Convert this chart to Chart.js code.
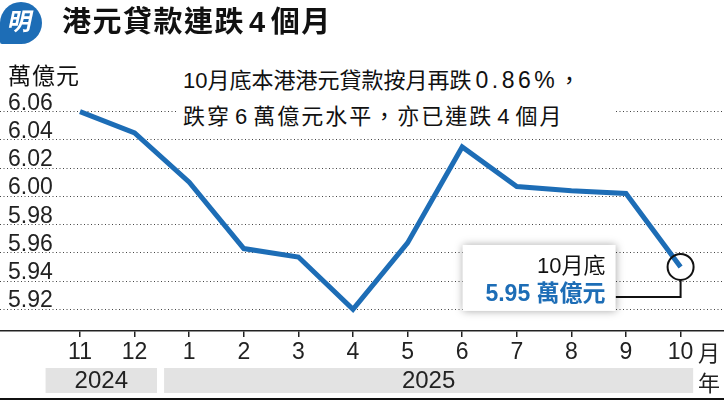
<!DOCTYPE html>
<html>
<head>
<meta charset="utf-8">
<script src="https://cdn.jsdelivr.net/npm/chart.js@4"></script>
<style>
  html, body { margin: 0; padding: 0; background: #fff; }
  #wrap { position: relative; width: 724px; height: 401px; overflow: hidden;
    font-family: "Liberation Sans", "Noto Sans CJK TC", sans-serif; color: #111; }
  canvas { position: absolute; left: 0; top: 0; }
  .logo { position: absolute; left: 0; top: 2px; width: 42px; height: 42px; background: #1d6db6;
    border-radius: 21px 21px 21px 2px; color: #fff; text-align: center; line-height: 42px;
    font: bold 24px "Noto Sans CJK TC"; }
  .logo span { display: inline-block; transform: skewX(-12deg); }
  .title { position: absolute; left: 62px; top: 2px; font: bold 29px "Liberation Sans", "Noto Sans CJK TC";
    letter-spacing: 1.5px; line-height: 40px; white-space: nowrap; }
  .title .d { margin: 0 4px; }
  .unit { position: absolute; left: 8px; top: 61px; font-size: 23px; line-height: 30px; letter-spacing: 1px; }
  .note { position: absolute; left: 178px; top: 62px; width: 436px; height: 72px; background: #fff;
    font-size: 22px; line-height: 36px; padding-left: 5px; box-sizing: border-box; white-space: nowrap; }
  .note .l1 .w { font-size: 23px; letter-spacing: 3.5px; margin-left: 4px; }
  .note .l2 { letter-spacing: 2px; }
  .note .l2 .d { margin: 0 4px; }
  .suffix { position: absolute; left: 698px; font: 22px "Noto Sans CJK TC"; line-height: 26px; color: #222; }
</style>
</head>
<body>
<div id="wrap">
  <canvas id="chart" width="724" height="401"></canvas>
  <div class="logo"><span>明</span></div>
  <div class="title">港元貸款連跌<span class="d">4</span>個月</div>
  <div class="unit">萬億元</div>
  <div class="note"><span class="l1">10月底本港港元貸款按月再跌<span class="w">0.86%</span>，</span><br><span class="l2">跌穿<span class="d">6</span>萬億元水平，亦已連跌<span class="d">4</span>個月</span></div>
  <div class="suffix" style="top:338px">月</div>
  <div class="suffix" style="top:368px">年</div>
</div>
<script>
// 資料
const months = ["11", "12", "1", "2", "3", "4", "5", "6", "7", "8", "9", "10"];
const loans = [6.060, 6.045, 6.010, 5.963, 5.957, 5.920, 5.967, 6.035, 6.007, 6.004, 6.002, 5.950];
const yTicks = [5.92, 5.94, 5.96, 5.98, 6.00, 6.02, 6.04, 6.06];
const years = [
  { label: "2024", from: 0, to: 1 },
  { label: "2025", from: 2, to: 11 },
];

const blue = "#1d6db6";

// 年份色帶、Y軸數字、10月底標註
const decor = {
  id: "decor",
  afterDraw(chart) {
    const { ctx, scales: { x, y } } = chart;
    ctx.save();

    // y 軸數字 (寫在格線上方)
    ctx.fillStyle = "#222";
    ctx.font = '23px "Liberation Sans"';
    ctx.textAlign = "left";
    ctx.textBaseline = "alphabetic";
    yTicks.forEach((v) => {
      ctx.fillText(v.toFixed(2), 8, y.getPixelForValue(v) - 2);
    });

    // 年份色帶
    years.forEach((yr, i) => {
      const l = i === 0 ? x.getPixelForValue(yr.from - 0.63) : x.getPixelForValue(yr.from - 0.46);
      const r = i === years.length - 1 ? x.getPixelForValue(yr.to + 0.23) : x.getPixelForValue(yr.to + 0.41);
      ctx.fillStyle = "#e3e3e3";
      ctx.fillRect(l, 368, r - l, 25);
      ctx.fillStyle = "#222";
      ctx.font = '24px "Liberation Sans"';
      ctx.textAlign = "center";
      ctx.textBaseline = "middle";
      ctx.fillText(yr.label, (l + r) / 2, 381);
    });

    // 底線
    ctx.fillStyle = "#111";
    ctx.fillRect(0, 398, 724, 2);

    // 10月底標註
    const last = loans.length - 1;
    const px = x.getPixelForValue(last);
    const py = y.getPixelForValue(loans[last]);
    const bx = px - 218, by = py - 22, bw = 153, bh = 66;

    ctx.strokeStyle = "#111";
    ctx.lineWidth = 2;
    ctx.beginPath();
    ctx.moveTo(px, py + 13);
    ctx.lineTo(px, py + 30);
    ctx.lineTo(bx + bw, py + 30);
    ctx.stroke();

    ctx.beginPath();
    ctx.arc(px, py, 13, 0, Math.PI * 2);
    ctx.stroke();

    ctx.shadowColor = "rgba(0,0,0,0.35)";
    ctx.shadowBlur = 8;
    ctx.fillStyle = "#fff";
    ctx.fillRect(bx, by, bw, bh);
    ctx.shadowColor = "transparent";
    ctx.shadowBlur = 0;

    ctx.textAlign = "right";
    ctx.textBaseline = "middle";
    ctx.fillStyle = "#111";
    ctx.font = '22px "Liberation Sans", "Noto Sans CJK TC"';
    ctx.fillText("10月底", bx + bw - 10, py);
    ctx.fillStyle = blue;
    ctx.font = 'bold 23px "Liberation Sans", "Noto Sans CJK TC"';
    ctx.fillText(loans[last].toFixed(2) + " 萬億元", bx + bw - 10, py + 28);

    ctx.restore();
  },
};

new Chart(document.getElementById("chart"), {
  type: "line",
  data: {
    datasets: [
      {
        data: loans.map((v, i) => ({ x: i, y: v })),
        borderColor: blue,
        borderWidth: 5,
        pointRadius: 0,
        tension: 0,
        borderJoinStyle: "miter",
      },
    ],
  },
  options: {
    responsive: false,
    animation: false,
    layout: { padding: { top: 50, left: 0, right: 0, bottom: 0 } },
    plugins: { legend: { display: false }, tooltip: { enabled: false } },
    scales: {
      x: {
        type: "linear",
        min: -1.465,
        max: 11.795,
        afterBuildTicks: (scale) => { scale.ticks = months.map((m, i) => ({ value: i })); },
        afterFit: (scale) => { scale.height = 70; },
        ticks: {
          callback: (v) => months[v],
          color: "#222",
          font: { family: "Liberation Sans", size: 23 },
          padding: 2,
          maxRotation: 0,
          autoSkip: false,
        },
        grid: { drawOnChartArea: false, drawTicks: true, tickLength: 6, color: "#222", lineWidth: 1.5 },
        border: { display: true, color: "#222", width: 1.5 },
      },
      y: {
        min: 5.9046,
        max: 6.1037,
        afterBuildTicks: (scale) => { scale.ticks = yTicks.map((v) => ({ value: v })); },
        afterFit: (scale) => { scale.width = 0; },
        ticks: { display: false },
        grid: { drawTicks: false, color: "#444", lineWidth: 1 },
        border: { display: false, dash: [1, 2.5] },
      },
    },
  },
  plugins: [decor],
});
</script>
</body>
</html>
